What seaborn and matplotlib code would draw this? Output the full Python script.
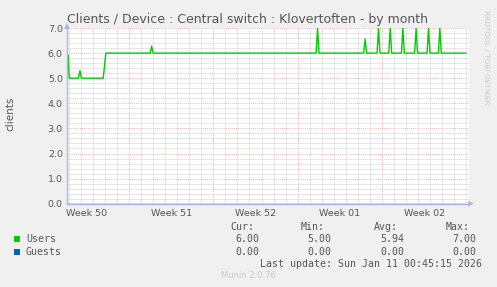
import numpy as np
import pandas as pd
import matplotlib
matplotlib.use("Agg")
import matplotlib.pyplot as plt
import seaborn as sns

# ---------------- data ----------------
# time in days relative to start of Week 51 (Mon Dec 15)
user_days = [-5.11, -5.05, -4.96, -4.20, -4.07, -3.95, -2.14, -1.92,
             1.76, 1.88, 2.00,
             15.53, 15.65, 15.77,
             19.48, 19.60, 19.72,
             20.59, 20.71, 20.83,
             21.56, 21.68, 21.80,
             22.61, 22.73, 22.85,
             23.71, 23.83, 23.95,
             24.74, 24.86, 24.98,
             25.68, 25.80, 25.92,
             27.96]
user_vals = [5.5, 5.92, 5.0, 5.0, 5.3, 5.0, 5.0, 6.0,
             6.0, 6.28, 6.0,
             6.0, 7.0, 6.0,
             6.0, 6.56, 6.0,
             6.0, 7.0, 6.0,
             6.0, 7.0, 6.0,
             6.0, 7.0, 6.0,
             6.0, 7.0, 6.0,
             6.0, 7.0, 6.0,
             6.0, 7.0, 6.0,
             6.0]
guest_days = [-5.11, 27.96]
guest_vals = [0.0, 0.0]

week_labels = ["Week 50", "Week 51", "Week 52", "Week 01", "Week 02"]
week_centers = [-3.5, 3.5, 10.5, 17.5, 24.5]
week_bounds = [0, 7, 14, 21]

series_names = ["Users", "Guests"]
series_colors = ["#00CC00", "#0066B3"]
cur_vals = ["6.00", "0.00"]
min_vals = ["5.00", "0.00"]
avg_vals = ["5.94", "0.00"]
max_vals = ["7.00", "0.00"]

title = "Clients / Device : Central switch : Klovertoften - by month"
last_update = "Last update: Sun Jan 11 00:45:15 2026"

# ---------------- style ----------------
sns.set_style("white")
plt.rcParams["font.family"] = ["DejaVu Sans"]
BG = "#F0F0F0"
TXT = "#555555"
AXC = "#A9B6E6"

W, H = 497, 287
fig = plt.figure(figsize=(W / 100, H / 100), dpi=100, facecolor=BG)
L, R, T, B = 67, 469, 28, 203.7
ax = fig.add_axes([L / W, 1 - B / H, (R - L) / W, (B - T) / H])
ax.set_facecolor("white")

x0, x1 = -5.145, 28.22
ax.set_xlim(x0, x1)
ax.set_ylim(0, 7)

# grids
for d in np.arange(-5, 29, 1):
    if d in week_bounds:
        continue
    ax.axvline(d, color="#C8C8C8", lw=0.6, ls=(0, (1.2, 1.2)), zorder=0)
for v in np.arange(0.2, 7.0, 0.2):
    if abs(v - round(v)) < 1e-6:
        continue
    ax.axhline(v, color="#C8C8C8", lw=0.6, ls=(0, (1.2, 1.2)), zorder=0)
for d in week_bounds:
    ax.axvline(d, color="#E8A0A0", lw=0.6, ls=(0, (1, 1.5)), zorder=0.5)
for v in range(1, 8):
    ax.axhline(v, color="#E8A0A0", lw=0.6, ls=(0, (1, 1.5)), zorder=0.5)

df_u = pd.DataFrame({"day": user_days, "value": user_vals})
df_g = pd.DataFrame({"day": guest_days, "value": guest_vals})
sns.lineplot(data=df_g, x="day", y="value", color=series_colors[1], lw=1.0, ax=ax, zorder=1)
sns.lineplot(data=df_u, x="day", y="value", color=series_colors[0], lw=1.0, ax=ax, zorder=3)

ax.set_xlabel("")
ax.set_ylabel("")
ax.set_xticks(week_centers)
ax.set_xticklabels(week_labels)
ax.set_yticks(range(0, 8))
ax.set_yticklabels([f"{v:.1f}" for v in range(0, 8)])
ax.tick_params(axis="both", length=0, labelsize=6.8, labelcolor=TXT, pad=3)
ax.tick_params(axis="x", pad=4)

for s in ["top", "right"]:
    ax.spines[s].set_visible(False)
for s in ["left", "bottom"]:
    ax.spines[s].set_color(AXC)
    ax.spines[s].set_linewidth(1.0)
    ax.spines[s].set_zorder(5)

# axis arrows
fig.patches.append(matplotlib.patches.Polygon(
    [[(R - 1) / W, 1 - (B - 3) / H], [(R - 1) / W, 1 - (B + 3) / H], [(R + 5) / W, 1 - B / H]],
    closed=True, transform=fig.transFigure, facecolor=AXC, edgecolor="none"))
fig.patches.append(matplotlib.patches.Polygon(
    [[(L - 3) / W, 1 - (T + 1) / H], [(L + 3) / W, 1 - (T + 1) / H], [L / W, 1 - (T - 5) / H]],
    closed=True, transform=fig.transFigure, facecolor=AXC, edgecolor="none"))

# title & labels
fig.text(247.5 / W, 1 - 19 / H, title, ha="center", va="center", fontsize=9.0, color=TXT)
fig.text(10 / W, 1 - 114 / H, "clients", rotation=90, ha="center", va="center",
         fontsize=7.5, color=TXT)
fig.text(486 / W, 1 - 57 / H, "RRDTOOL / TOBI OETIKER", rotation=270, ha="center",
         va="center", fontsize=5.3, color="#C8C8C8")

# legend block
mono = dict(family="DejaVu Sans Mono", fontsize=7.1, color=TXT)
heads = ["Cur:", "Min:", "Avg:", "Max:"]
head_x = [254, 325, 397.7, 470]
val_x = [259.3, 331.7, 404, 476.7]
for h, xh in zip(heads, head_x):
    fig.text(xh / W, 1 - 227.5 / H, h, ha="right", va="center", **mono)
rows_y = [239.3, 251.7]
cols = [cur_vals, min_vals, avg_vals, max_vals]
for i, name in enumerate(series_names):
    y = rows_y[i]
    fig.patches.append(matplotlib.patches.Rectangle(
        (14 / W, 1 - (y + 3) / H), 6 / W, 6 / H, transform=fig.transFigure,
        facecolor=series_colors[i], edgecolor="none"))
    fig.text(26 / W, 1 - y / H, name, ha="left", va="center", **mono)
    for c, xv in zip(cols, val_x):
        fig.text(xv / W, 1 - y / H, c[i], ha="right", va="center", **mono)
fig.text(482.5 / W, 1 - 263.7 / H, last_update, ha="right", va="center", **mono)
fig.text(248 / W, 1 - 276 / H, "Munin 2.0.76", ha="center", va="center",
         fontsize=6, color="#C8C8C8")

fig.savefig("out.png", dpi=100, facecolor=BG)
